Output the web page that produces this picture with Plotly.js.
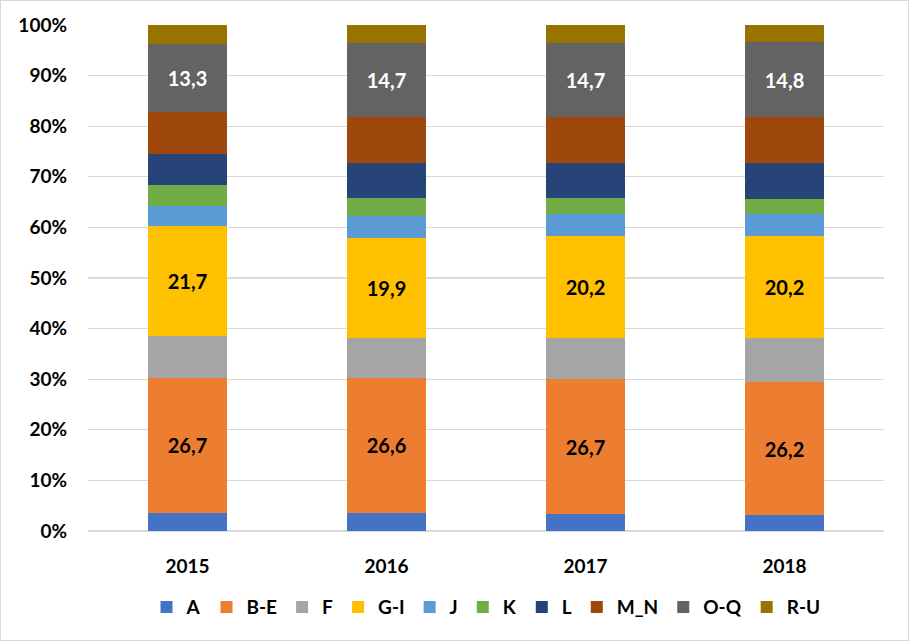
<!DOCTYPE html>
<html>
<head>
<meta charset="utf-8">
<script src="https://cdn.plot.ly/plotly-3.0.1.min.js"></script>
<style>
html,body{margin:0;padding:0;background:#fff;}
#wrap{position:relative;width:909px;height:641px;}
#chart{width:909px;height:641px;}
#frame{position:absolute;left:0;top:0;width:909px;height:641px;box-sizing:border-box;border:1px solid #d9d9d9;pointer-events:none;}
</style>
</head>
<body>
<div id="wrap"><div id="chart"></div><div id="frame"></div></div>
<script>
const years = ['2015', '2016', '2017', '2018'];
const seriesNames = ['A', 'B-E', 'F', 'G-I', 'J', 'K', 'L', 'M_N', 'O-Q', 'R-U'];
const A   = [3.6, 3.6, 3.3, 3.2];
const BE  = [26.7, 26.6, 26.7, 26.2];
const F   = [8.3, 7.9, 8.1, 8.7];
const GI  = [21.7, 19.9, 20.2, 20.2];
const J   = [4.0, 4.3, 4.4, 4.4];
const K   = [4.1, 3.6, 3.2, 2.9];
const L   = [6.2, 6.8, 6.8, 7.1];
const MN  = [8.3, 9.1, 9.1, 9.1];
const OQ  = [13.3, 14.7, 14.7, 14.8];
const RU  = [3.8, 3.5, 3.5, 3.4];
const labelled = ['B-E', 'G-I', 'O-Q'];
const yTickVals = [0, 10, 20, 30, 40, 50, 60, 70, 80, 90, 100];
const yTickText = ['0%', '10%', '20%', '30%', '40%', '50%', '60%', '70%', '80%', '90%', '100%'];

const values = [A, BE, F, GI, J, K, L, MN, OQ, RU];
const colors = ['#4472C4', '#ED7D31', '#A5A5A5', '#FFC000', '#5B9BD5', '#70AD47', '#264478', '#9E480E', '#636363', '#997300'];
const labelColors = {'B-E': '#000000', 'G-I': '#000000', 'O-Q': '#ffffff'};

const traces = seriesNames.map((name, i) => {
  const show = labelled.includes(name);
  return {
    type: 'bar',
    name: name,
    x: years,
    y: values[i],
    marker: {color: colors[i], line: {width: 0}},
    texttemplate: show ? '%{y:.1f}' : '',
    textposition: show ? 'inside' : 'none',
    insidetextanchor: 'middle',
    textangle: 0,
    constraintext: 'none',
    textfont: {family: 'Lato, "Liberation Sans", sans-serif', size: 20, color: labelColors[name] || '#000', weight: 'bold'},
    hoverinfo: 'skip'
  };
});

const layout = {
  width: 909,
  height: 641,
  barmode: 'stack',
  bargap: 0.6,
  separators: ', ',
  paper_bgcolor: '#ffffff',
  plot_bgcolor: '#ffffff',
  margin: {l: 88, r: 25, t: 25, b: 110, autoexpand: false},
  font: {family: 'Lato, "Liberation Sans", sans-serif', color: '#000', size: 19, weight: 'bold'},
  xaxis: {
    type: 'category',
    automargin: false,
    showgrid: false,
    showline: false,
    zeroline: false,
    ticks: '',
    tickfont: {size: 19, color: '#000', weight: 'bold'},
    ticklabelstandoff: 22
  },
  yaxis: {
    range: [0, 100],
    automargin: false,
    tickvals: yTickVals,
    ticktext: yTickText,
    showgrid: true,
    gridcolor: '#d9d9d9',
    gridwidth: 1.3,
    zeroline: true,
    zerolinecolor: '#d9d9d9',
    zerolinewidth: 1.3,
    showline: false,
    ticks: '',
    tickfont: {size: 19, color: '#000', weight: 'bold'},
    ticklabelstandoff: 20
  },
  legend: {
    orientation: 'h',
    x: 0.5,
    xanchor: 'center',
    y: -0.113,
    yanchor: 'top',
    font: {size: 19, color: '#000', weight: 'bold'},
    traceorder: 'normal',
    itemclick: false
  },
  showlegend: true
};

Plotly.newPlot('chart', traces, layout, {displayModeBar: false, staticPlot: true});
</script>
</body>
</html>
